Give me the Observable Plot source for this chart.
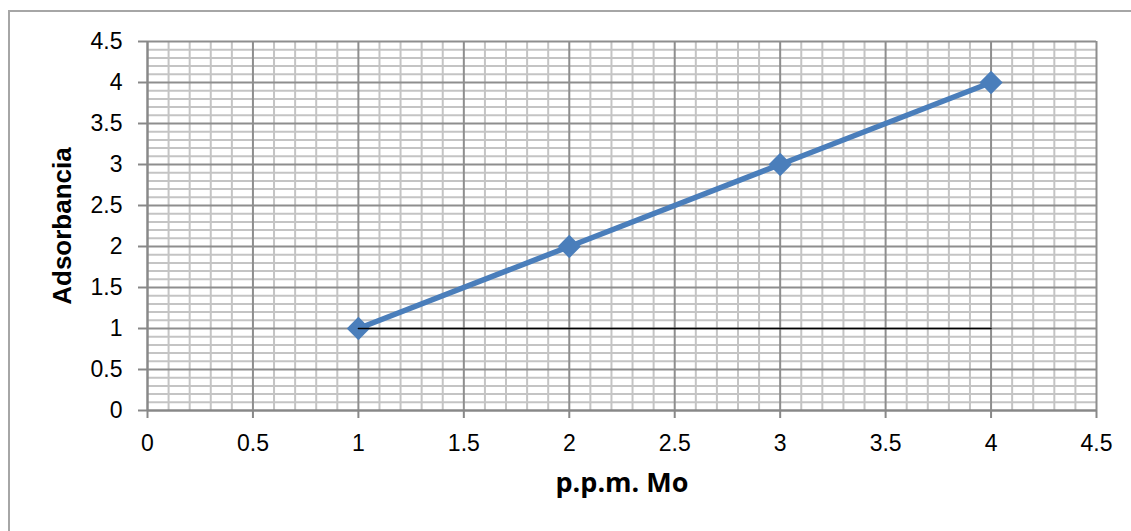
<!DOCTYPE html>
<html><head><meta charset="utf-8">
<script src="https://cdn.jsdelivr.net/npm/d3@7"></script>
<script src="https://cdn.jsdelivr.net/npm/@observablehq/plot@0.6"></script>
<style>
body{margin:0;background:#fff;overflow:hidden}
#wrap{position:relative;width:1131px;height:531px}
#wrap svg{position:absolute;left:0;top:0}
#border{position:absolute;left:8px;top:10px;width:1200px;height:600px;border-top:2px solid #a6a6a6;border-left:2px solid #a6a6a6;pointer-events:none}
</style></head><body><div id="wrap"><div id="border"></div></div>
<script>
// Data
const ppm = [1, 2, 3, 4];
const absorbancia = [1, 2, 3, 4];
const refLineX = [1, 4];
const refLineY = [1, 1];
const majorTicks = [0, 0.5, 1, 1.5, 2, 2.5, 3, 3.5, 4, 4.5];
const minorTicks = [0.1,0.2,0.3,0.4,0.6,0.7,0.8,0.9,1.1,1.2,1.3,1.4,1.6,1.7,1.8,1.9,2.1,2.2,2.3,2.4,2.6,2.7,2.8,2.9,3.1,3.2,3.3,3.4,3.6,3.7,3.8,3.9,4.1,4.2,4.3,4.4];
const xLabel = "p.p.m. Mo";
const yLabel = "Adsorbancia";

const series = ppm.map((x, i) => ({x, y: absorbancia[i]}));
const refLine = refLineX.map((x, i) => ({x, y: refLineY[i]}));

const blue = "#4a7ebb";
const axisGray = "#888888";
const fmt = d => String(d);

const chart = Plot.plot({
  width: 1131,
  height: 531,
  marginLeft: 147,
  marginRight: 35,
  marginTop: 41,
  marginBottom: 121,
  x: {domain: [0, 4.5]},
  y: {domain: [0, 4.5]},
  style: {fontFamily: "'Liberation Sans', Arial, sans-serif", fontSize: "23px", color: "#000", background: "transparent"},
  marks: [
    Plot.ruleX(minorTicks, {stroke: "#c4c4c4", strokeWidth: 2}),
    Plot.ruleY(minorTicks, {stroke: "#c4c4c4", strokeWidth: 2}),
    Plot.ruleX(majorTicks, {stroke: "#8e8e8e", strokeWidth: 2}),
    Plot.ruleY(majorTicks, {stroke: "#8e8e8e", strokeWidth: 2}),
    Plot.ruleX([0], {stroke: axisGray, strokeWidth: 2}),
    Plot.ruleY([0], {stroke: axisGray, strokeWidth: 2}),
    Plot.axisX({ticks: majorTicks, tickFormat: fmt, tickSize: 8, tickPadding: 16, fontSize: 23, label: null, stroke: axisGray, strokeWidth: 2, fill: "#000"}),
    Plot.axisY({ticks: majorTicks, tickFormat: fmt, tickSize: 9, tickPadding: 16, fontSize: 23, label: null, stroke: axisGray, strokeWidth: 2, fill: "#000"}),
    Plot.line(series, {x: "x", y: "y", stroke: blue, strokeWidth: 5.5}),
    Plot.dot(series, {x: "x", y: "y", symbol: "diamond2", r: 10.5, fill: blue, stroke: "none"}),
    Plot.line(refLine, {x: "x", y: "y", stroke: "#000", strokeWidth: 1.5}),
    Plot.text([xLabel], {frameAnchor: "bottom", dy: 81, text: d => d, fontSize: 27, fontWeight: "bold", fontFamily: "'Open Sans', sans-serif", fill: "#000"}),
    Plot.text([yLabel], {frameAnchor: "left", dx: -85, rotate: -90, textAnchor: "middle", text: d => d, fontSize: 26, fontWeight: "bold", fontFamily: "'Liberation Sans', Arial, sans-serif", fill: "#000"})
  ]
});
document.getElementById("wrap").appendChild(chart);
</script>
</body></html>
